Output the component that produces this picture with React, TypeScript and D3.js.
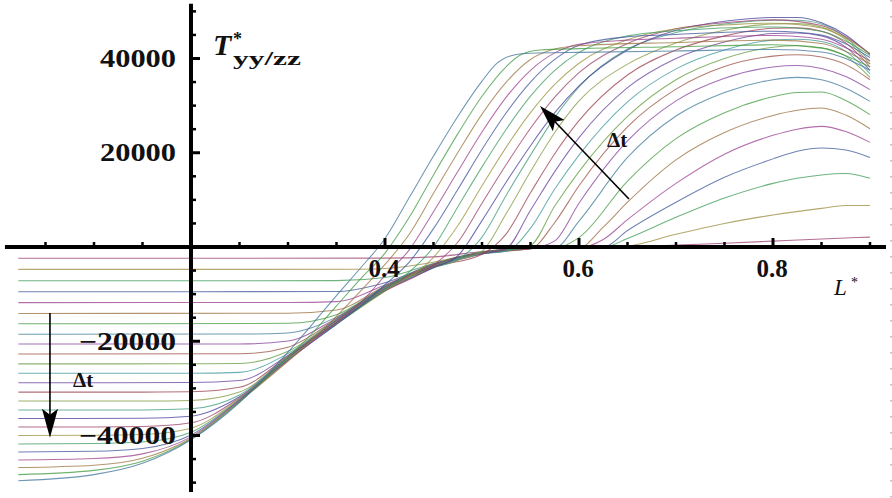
import React from 'react';
import * as d3 from 'd3';

// ---------- data ----------
const X_MAJOR = [0.4, 0.6, 0.8];
const X_MAJOR_LABELS = ['0.4', '0.6', '0.8'];
const X_MINOR = [0.05, 0.1, 0.15, 0.25, 0.3, 0.35, 0.45, 0.5, 0.55, 0.65, 0.7, 0.75, 0.85, 0.9];
const Y_MAJOR = [-40000, -20000, 20000, 40000];
const Y_MAJOR_LABELS = ['\u221240000', '\u221220000', '20000', '40000'];
const Y_MINOR = [-50000, -45000, -35000, -30000, -25000, -15000, -10000, -5000, 5000, 10000, 15000, 25000, 30000, 35000, 45000, 50000];
const AXIS_X_SPAN = [0.0082, 0.9165];
const AXIS_Y_SPAN = [-52000, 51600];

// one list of [L*, T*] points per time step (earliest first)
const SERIES: [number, number][][] = [
  [[0.022,-2400],[0.4,-2360],[0.45,-2100],[0.5,-950],[0.55,-200],[0.6,-100],[0.625,-95],[0.65,-30],[0.7,400],[0.75,800],[0.8,1250],[0.85,1700],[0.875,1900],[0.9,2100]],
  [[0.022,-4750],[0.375,-4740],[0.4,-4578],[0.45,-3222],[0.5,-1042],[0.55,-220],[0.6,-110],[0.625,-90],[0.65,200],[0.7,2700],[0.75,5000],[0.8,6800],[0.85,8200],[0.875,8800],[0.9,8800]],
  [[0.022,-7150],[0.35,-7140],[0.4,-6467],[0.45,-3500],[0.5,-1083],[0.55,-240],[0.6,-120],[0.625,-80],[0.65,1800],[0.7,6300],[0.75,10400],[0.8,13500],[0.825,14600],[0.85,15300],[0.875,15600],[0.9,14600]],
  [[0.022,-9500],[0.35,-9450],[0.4,-7580],[0.45,-3600],[0.5,-1125],[0.55,-260],[0.6,-130],[0.625,-50],[0.65,3500],[0.7,9500],[0.75,14800],[0.8,18700],[0.825,20300],[0.85,21000],[0.875,20600],[0.9,19000]],
  [[0.022,-11800],[0.3,-11790],[0.35,-11590],[0.4,-8040],[0.45,-3667],[0.5,-1167],[0.55,-280],[0.6,-140],[0.625,1600],[0.65,5800],[0.7,13500],[0.75,19700],[0.8,23700],[0.825,25000],[0.85,25600],[0.875,24500],[0.9,22200]],
  [[0.022,-14100],[0.3,-14060],[0.35,-13373],[0.4,-8258],[0.45,-3733],[0.5,-1208],[0.55,-300],[0.6,-150],[0.625,4200],[0.65,9500],[0.7,18500],[0.75,24300],[0.8,27900],[0.825,29000],[0.85,29500],[0.875,28000],[0.9,25100]],
  [[0.022,-16300],[0.3,-16200],[0.35,-14400],[0.4,-8350],[0.45,-3800],[0.5,-1250],[0.55,-320],[0.575,-250],[0.6,2000],[0.65,14000],[0.7,23000],[0.75,28500],[0.8,31900],[0.825,32800],[0.85,32900],[0.875,31100],[0.9,28100]],
  [[0.022,-18500],[0.25,-18480],[0.3,-18230],[0.35,-14877],[0.4,-8442],[0.45,-3867],[0.5,-1292],[0.55,-350],[0.575,-200],[0.6,5500],[0.65,19000],[0.7,27800],[0.75,32800],[0.8,35500],[0.825,36000],[0.85,35500],[0.875,33700],[0.9,30900]],
  [[0.022,-20600],[0.25,-20580],[0.3,-19940],[0.35,-15090],[0.4,-8533],[0.45,-3933],[0.5,-1333],[0.525,-820],[0.55,-370],[0.575,1300],[0.6,9300],[0.65,22500],[0.7,31000],[0.75,35800],[0.8,38200],[0.825,38500],[0.85,37900],[0.875,36200],[0.9,33400]],
  [[0.022,-22700],[0.25,-22670],[0.3,-21250],[0.35,-15250],[0.4,-8625],[0.45,-4000],[0.5,-1375],[0.525,-850],[0.55,-390],[0.575,5200],[0.6,13000],[0.65,25500],[0.7,33500],[0.75,38300],[0.8,40500],[0.825,40800],[0.85,40300],[0.875,38700],[0.9,35500]],
  [[0.022,-24800],[0.2,-24790],[0.25,-24720],[0.3,-22140],[0.35,-15367],[0.4,-8717],[0.45,-4067],[0.5,-1417],[0.525,-870],[0.55,300],[0.575,8700],[0.6,16000],[0.65,27700],[0.7,35500],[0.75,40000],[0.8,42400],[0.825,42700],[0.85,42300],[0.875,40500],[0.9,36000]],
  [[0.022,-26800],[0.2,-26790],[0.25,-26606],[0.3,-22615],[0.35,-15483],[0.4,-8808],[0.45,-4133],[0.5,-1458],[0.525,-900],[0.55,4000],[0.575,12300],[0.6,19500],[0.65,30800],[0.7,37800],[0.75,41800],[0.8,43900],[0.825,44100],[0.85,43600],[0.875,41500],[0.9,36800]],
  [[0.022,-28800],[0.2,-28770],[0.25,-28344],[0.3,-23000],[0.35,-15600],[0.4,-8900],[0.45,-4200],[0.5,-1500],[0.525,-300],[0.55,7800],[0.575,16000],[0.6,23200],[0.65,33800],[0.7,40000],[0.75,43500],[0.8,45300],[0.825,45400],[0.85,44800],[0.875,42400],[0.9,37500]],
  [[0.022,-30800],[0.15,-30795],[0.2,-30735],[0.25,-29780],[0.3,-23125],[0.35,-15717],[0.4,-8992],[0.45,-4267],[0.5,-1530],[0.525,2800],[0.55,11500],[0.575,19800],[0.6,26800],[0.65,36500],[0.7,41800],[0.75,44800],[0.8,46400],[0.825,46500],[0.85,45800],[0.875,43300],[0.9,38200]],
  [[0.022,-32700],[0.15,-32690],[0.2,-32565],[0.25,-30790],[0.3,-23250],[0.35,-15833],[0.4,-9083],[0.45,-4333],[0.475,-2800],[0.5,-900],[0.525,7100],[0.55,16000],[0.575,24300],[0.6,31000],[0.65,38800],[0.7,43300],[0.75,46000],[0.8,47300],[0.825,47400],[0.85,46700],[0.875,44000],[0.9,38800]],
  [[0.022,-34600],[0.15,-34575],[0.2,-34340],[0.25,-31420],[0.3,-23375],[0.35,-15950],[0.4,-9175],[0.45,-4400],[0.475,-2700],[0.5,2100],[0.525,11000],[0.55,19500],[0.575,27500],[0.6,34000],[0.65,42000],[0.7,45500],[0.75,47300],[0.8,48100],[0.825,48100],[0.85,47300],[0.875,44500],[0.9,39400]],
  [[0.022,-36400],[0.15,-36350],[0.2,-35900],[0.25,-31790],[0.3,-23500],[0.35,-16067],[0.4,-9267],[0.45,-4400],[0.475,-1900],[0.5,5600],[0.525,13800],[0.55,21500],[0.575,28500],[0.6,34200],[0.65,41800],[0.7,46000],[0.75,47900],[0.8,48700],[0.825,48700],[0.85,47600],[0.875,45000],[0.9,40800]],
  [[0.022,-38200],[0.1,-38190],[0.15,-38090],[0.2,-37300],[0.25,-32030],[0.3,-23625],[0.35,-16183],[0.4,-9360],[0.45,-3900],[0.475,1000],[0.5,9300],[0.525,17500],[0.55,25200],[0.575,31800],[0.6,37000],[0.65,43200],[0.7,46300],[0.75,47600],[0.8,48200],[0.85,47000],[0.875,44600],[0.9,41000]],
  [[0.022,-40000],[0.1,-39950],[0.15,-39780],[0.2,-38450],[0.25,-32210],[0.3,-23750],[0.35,-16300],[0.4,-9365],[0.45,-2200],[0.475,4500],[0.5,13000],[0.525,21200],[0.55,28500],[0.575,34500],[0.6,39000],[0.65,44000],[0.7,46300],[0.75,47100],[0.8,47500],[0.85,46500],[0.875,44300],[0.9,41000]],
  [[0.022,-41800],[0.1,-41700],[0.15,-41400],[0.2,-39320],[0.25,-32375],[0.3,-23875],[0.35,-16400],[0.4,-9100],[0.425,-5300],[0.45,0],[0.475,8500],[0.5,17000],[0.525,25000],[0.55,32000],[0.575,37500],[0.6,41300],[0.65,44800],[0.7,45900],[0.8,46700],[0.85,45800],[0.875,43700],[0.9,40600]],
  [[0.022,-43500],[0.1,-43350],[0.15,-42760],[0.2,-39910],[0.25,-32500],[0.3,-24000],[0.35,-16420],[0.375,-12500],[0.4,-7990],[0.425,-3200],[0.45,3900],[0.475,12200],[0.5,20700],[0.525,28500],[0.55,35000],[0.575,39800],[0.6,42800],[0.65,44600],[0.7,45100],[0.8,45800],[0.85,45000],[0.875,43100],[0.9,40200]],
  [[0.022,-45200],[0.1,-44900],[0.15,-43900],[0.2,-40300],[0.25,-32625],[0.3,-24125],[0.35,-16050],[0.375,-11800],[0.4,-6060],[0.425,-600],[0.45,7500],[0.475,16000],[0.5,24400],[0.525,31800],[0.55,37500],[0.575,41200],[0.6,43000],[0.65,43900],[0.7,44300],[0.8,44900],[0.85,44100],[0.875,42300],[0.9,39500]],
  [[0.022,-46800],[0.1,-46300],[0.15,-44850],[0.2,-40575],[0.25,-32750],[0.3,-24250],[0.325,-19700],[0.35,-14700],[0.375,-9300],[0.4,-3700],[0.425,2700],[0.45,11400],[0.475,20000],[0.5,28200],[0.525,35000],[0.55,39800],[0.575,42000],[0.6,42700],[0.7,43400],[0.8,43900],[0.85,43200],[0.875,41500],[0.9,38900]],
  [[0.022,-48300],[0.1,-47400],[0.15,-45450],[0.2,-40770],[0.25,-32875],[0.3,-23400],[0.325,-18300],[0.35,-12500],[0.375,-6700],[0.4,-1300],[0.425,6300],[0.45,15300],[0.475,24000],[0.5,32000],[0.525,38300],[0.54,40800],[0.56,41800],[0.6,42100],[0.7,42500],[0.8,42900],[0.85,42200],[0.875,40600],[0.9,38200]],
  [[0.022,-49600],[0.1,-48300],[0.15,-45900],[0.2,-40900],[0.25,-33000],[0.3,-22300],[0.325,-16400],[0.35,-10300],[0.375,-4400],[0.4,1800],[0.425,10500],[0.45,19300],[0.475,27700],[0.5,35200],[0.515,38900],[0.53,40600],[0.55,41100],[0.6,41300],[0.7,41600],[0.8,41900],[0.85,41400],[0.875,40000],[0.9,37500]],
];

// annotation arrows in data coordinates: [tail, tip]
const ARROW_UP: [[number, number], [number, number]] = [[0.6515, 10200], [0.5598, 29900]];
const ARROW_DOWN: [[number, number], [number, number]] = [[0.0546, -14000], [0.0546, -40500]];

// Mathematica default plot colours (ColorData[1])
function mmaColor(i: number): string {
  const h = (((0.67 + (2 * i) / 1.618033988749895) % 1) + 1) % 1;
  const s = 0.6, v = 0.6;
  const hh = h * 6;
  const sec = Math.floor(hh) % 6;
  const f = hh - Math.floor(hh);
  const p = v * (1 - s), q = v * (1 - s * f), t = v * (1 - s * (1 - f));
  const rgb = [[v, t, p], [q, v, p], [p, v, t], [p, q, v], [t, p, v], [v, p, q]][sec];
  return d3.rgb(rgb[0] * 255, rgb[1] * 255, rgb[2] * 255).formatHex();
}

const SERIF = '"Liberation Serif", "Times New Roman", "DejaVu Serif", serif';

function Arrow({ from, to, x, y, len, half }: any) {
  const x1 = x(from[0]), y1 = y(from[1]), x2 = x(to[0]), y2 = y(to[1]);
  const dx = x2 - x1, dy = y2 - y1;
  const L = Math.hypot(dx, dy);
  const ux = dx / L, uy = dy / L;
  const bx = x2 - ux * len, by = y2 - uy * len;
  const px = -uy, py = ux;
  const pts = [
    [x2, y2],
    [bx + px * half, by + py * half],
    [x2 - ux * len * 0.8, y2 - uy * len * 0.8],
    [bx - px * half, by - py * half],
  ];
  return (
    <g>
      <line x1={x1} y1={y1} x2={x2 - ux * len * 0.7} y2={y2 - uy * len * 0.7} stroke="#000" strokeWidth={1.6} />
      <polygon points={pts.map((p) => p.join(',')).join(' ')} fill="#000" />
    </g>
  );
}

export default function App() {
  const W = 892, H = 498;
  const x = d3.scaleLinear().domain([0.2, 0.8]).range([191, 773]);
  const y = d3.scaleLinear().domain([-40000, 40000]).range([435.5, 58.5]);
  const line = d3
    .line<[number, number]>()
    .x((d) => x(d[0]))
    .y((d) => y(d[1]))
    .curve(d3.curveMonotoneX);
  const x0 = x(0.2);
  const y0 = y(0);

  return (
    <svg
      width={W}
      height={H}
      viewBox={`0 0 ${W} ${H}`}
      style={{ position: 'absolute', left: 0, top: 0, background: '#fff' }}
    >
      <rect x={0} y={0} width={W} height={H} fill="#fff" />
      <g fill="none" strokeWidth={1.05} strokeLinejoin="round">
        {SERIES.map((s, i) => (
          <path key={i} d={line(s) || ''} stroke={mmaColor(i + 1)} strokeOpacity={0.75} />
        ))}
      </g>

      {/* axes */}
      <line x1={x(AXIS_X_SPAN[0])} x2={x(AXIS_X_SPAN[1])} y1={y0} y2={y0} stroke="#000" strokeWidth={4} />
      <line x1={x0} x2={x0} y1={y(AXIS_Y_SPAN[1])} y2={y(AXIS_Y_SPAN[0])} stroke="#000" strokeWidth={4} />

      {X_MAJOR.map((t) => (
        <line key={'xM' + t} x1={x(t)} x2={x(t)} y1={y0} y2={y0 - 9} stroke="#000" strokeWidth={3} />
      ))}
      {X_MINOR.map((t) => (
        <line key={'xm' + t} x1={x(t)} x2={x(t)} y1={y0} y2={y0 - 5} stroke="#000" strokeWidth={2.5} />
      ))}
      {Y_MAJOR.map((t) => (
        <line key={'yM' + t} x1={x0} x2={x0 + 9} y1={y(t)} y2={y(t)} stroke="#000" strokeWidth={3} />
      ))}
      {Y_MINOR.map((t) => (
        <line key={'ym' + t} x1={x0} x2={x0 + 5} y1={y(t)} y2={y(t)} stroke="#000" strokeWidth={2.5} />
      ))}

      {/* tick labels */}
      <g fontFamily={SERIF} fontWeight="bold" fontSize={25} fill="#111">
        {X_MAJOR.map((t, i) => (
          <text key={'xl' + t} x={x(t) - 1} y={y0 + 30} textAnchor="middle">
            {X_MAJOR_LABELS[i]}
          </text>
        ))}
        {Y_MAJOR.map((t, i) => {
          const lab = Y_MAJOR_LABELS[i];
          const len = lab.length === 5 ? 76 : 97;
          return (
            <text key={'yl' + t} x={x0 - 15 - len} y={y(t) + 8.5} textLength={len} lengthAdjust="spacingAndGlyphs">
              {lab}
            </text>
          );
        })}
      </g>

      {/* axis labels */}
      <g fontFamily={SERIF} fill="#111">
        <text x={213} y={55} fontSize={30} fontStyle="italic" fontWeight="bold">T</text>
        <text x={233} y={45} fontSize={18} fontWeight="bold">*</text>
        <text x={233} y={65} fontSize={19} fontWeight="bold" textLength={68} lengthAdjust="spacingAndGlyphs">yy/zz</text>
        <text x={834} y={295} fontSize={23} fontStyle="italic">L</text>
        <text x={851} y={287} fontSize={14}>*</text>
        <text x={607} y={147} fontSize={21} fontWeight="bold">{'\u0394t'}</text>
        <text x={73} y={387} fontSize={21} fontWeight="bold">{'\u0394t'}</text>
      </g>

      <Arrow from={ARROW_UP[0]} to={ARROW_UP[1]} x={x} y={y} len={27} half={8} />
      <Arrow from={ARROW_DOWN[0]} to={ARROW_DOWN[1]} x={x} y={y} len={29} half={8} />

      {/* image border */}
      <line x1={891} x2={891} y1={0} y2={H} stroke="#999" strokeWidth={1.2} strokeDasharray="1.5 14.5" />
    </svg>
  );
}
